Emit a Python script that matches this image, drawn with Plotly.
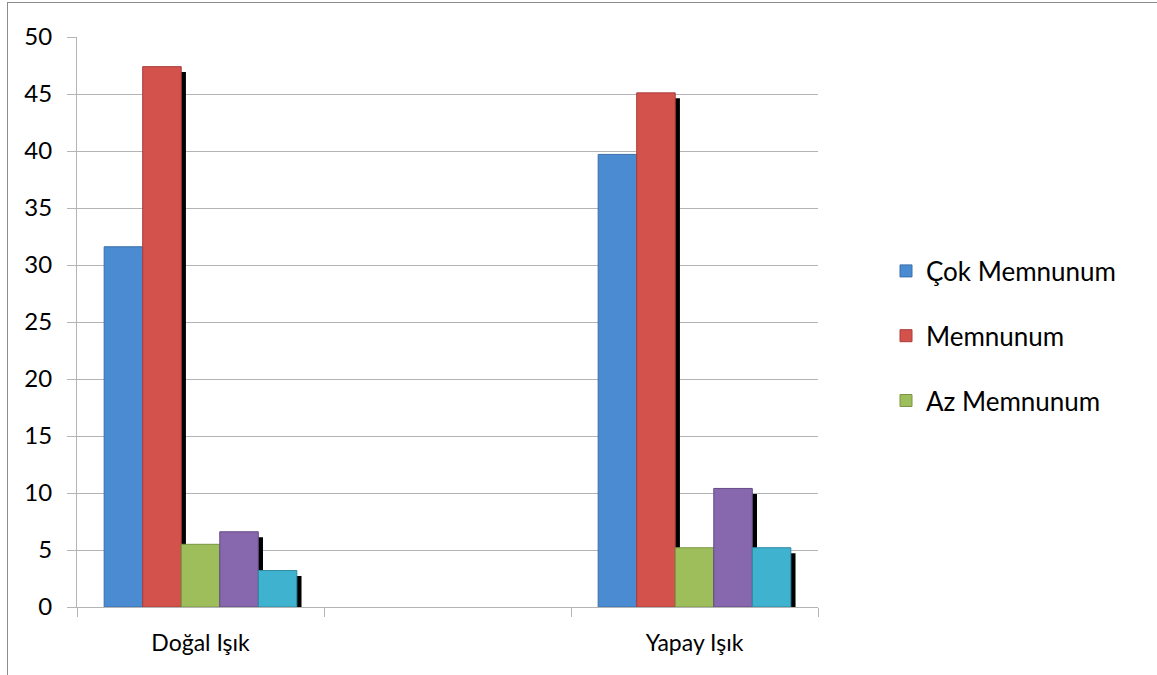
import plotly.graph_objects as go

# ---- data ----
categories = ["Doğal Işık", "Yapay Işık"]
axis_categories = ["Doğal Işık", " ", "Yapay Işık"]
series_names = ["Çok Memnunum", "Memnunum", "Az Memnunum", "Memnun Değilim", "Hiç Memnun Değilim"]
cok_memnunum = [31.6, 39.7]
memnunum = [47.4, 45.1]
az_memnunum = [5.5, 5.2]
memnun_degilim = [6.6, 10.4]
hic_memnun_degilim = [3.2, 5.2]
y_ticks = [0, 5, 10, 15, 20, 25, 30, 35, 40, 45, 50]

series_values = [cok_memnunum, memnunum, az_memnunum, memnun_degilim, hic_memnun_degilim]
colors = ["#4A8BD2", "#D4524C", "#9DBE5A", "#8767AE", "#3FB2CF"]
edges = ["#3A6EA8", "#A83E3A", "#7A9644", "#634C85", "#2E8AA2"]
in_legend = [True, True, True, False, False]

FONT = "Lato"
W, H = 1157, 675
L, R, T, B = 77, 339, 37, 68

fig = go.Figure()

n = len(series_values)
bar_w = 0.156
start = -bar_w * n / 2
shadow_dx = 0.019
shadow_dy = 0.48

# drop shadows first
for i, vals in enumerate(series_values):
    fig.add_trace(go.Bar(
        x=categories, y=vals, base=-shadow_dy,
        offset=start + i * bar_w + shadow_dx, width=bar_w,
        marker=dict(color="#000000", line=dict(width=0)),
        showlegend=False, hoverinfo="skip",
    ))

for i, (name, vals) in enumerate(zip(series_names, series_values)):
    fig.add_trace(go.Bar(
        x=categories, y=vals, name=name,
        offset=start + i * bar_w, width=bar_w,
        marker=dict(color=colors[i], line=dict(color=edges[i], width=1)),
        showlegend=in_legend[i], legendgroup=f"g{i}",
    ))

pw = W - L - R
ph = H - T - B

def px_x(p):
    return (p - L) / pw

def px_y(p):
    return (H - B - p) / ph

fig.update_layout(
    width=W, height=H,
    margin=dict(l=L, r=R, t=T, b=B),
    barmode="overlay",
    paper_bgcolor="white", plot_bgcolor="white",
    font=dict(family=FONT, color="#000000"),
    showlegend=True,
    legend=dict(
        x=px_x(886), xanchor="left",
        y=px_y(336), yanchor="middle",
        font=dict(family=FONT, size=26, color="#000000"),
        traceorder="grouped", tracegroupgap=28,
        bgcolor="rgba(0,0,0,0)", borderwidth=0,
    ),
    xaxis=dict(
        type="category",
        categoryorder="array", categoryarray=axis_categories,
        range=[-0.5, 2.5],
        tickson="boundaries", ticks="outside", ticklen=9, tickcolor="#B4B4B4",
        showline=True, linecolor="#B4B4B4", linewidth=1,
        showgrid=False, zeroline=False,
        tickfont=dict(family=FONT, size=23, color="#000000"),
        ticklabelstandoff=15,
        fixedrange=True,
    ),
    yaxis=dict(
        range=[0, 50], tickvals=y_ticks,
        ticks="outside", ticklen=9, tickcolor="#B4B4B4",
        showline=True, linecolor="#B4B4B4", linewidth=1,
        showgrid=True, gridcolor="#B4B4B4", gridwidth=1,
        zeroline=False,
        tickfont=dict(family=FONT, size=24, color="#000000"),
        ticklabelstandoff=10,
        fixedrange=True,
    ),
    shapes=[
        dict(type="line", xref="paper", yref="paper",
             x0=px_x(7), x1=px_x(W + 5), y0=px_y(2.5), y1=px_y(2.5),
             line=dict(color="#8C8C8C", width=1)),
        dict(type="line", xref="paper", yref="paper",
             x0=px_x(7.5), x1=px_x(7.5), y0=px_y(2.5), y1=px_y(H + 5),
             line=dict(color="#8C8C8C", width=1)),
    ],
)

fig.write_html("out.html")
